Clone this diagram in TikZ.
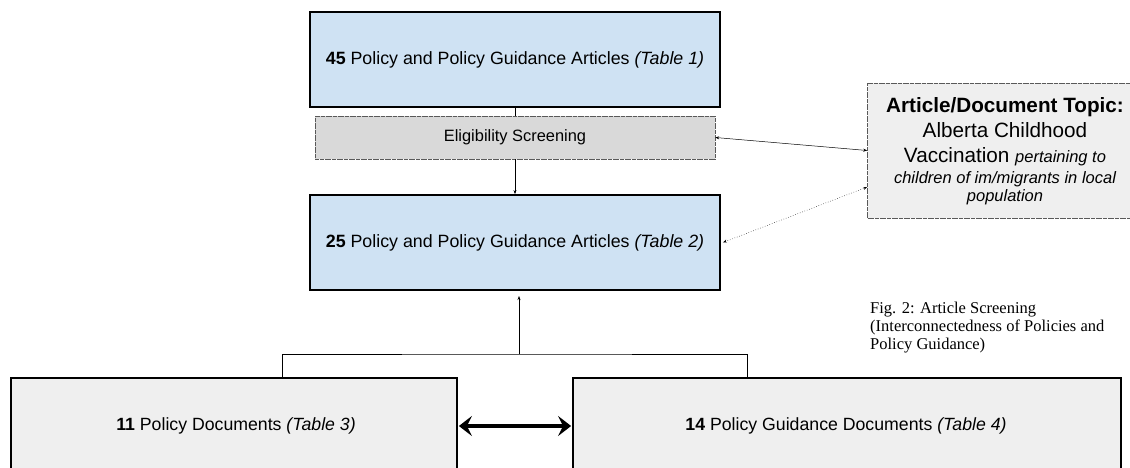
\documentclass[tikz,border=0pt]{standalone}
\usepackage{fontspec}
\setmainfont{Liberation Sans}
\newfontfamily\capfont{Liberation Serif}
\usetikzlibrary{arrows.meta}
\definecolor{boxblue}{HTML}{CFE2F3}
\definecolor{screengray}{HTML}{D9D9D9}
\definecolor{lightgray}{HTML}{EFEFEF}
\definecolor{edgegray}{HTML}{595959}
\begin{document}
\begin{tikzpicture}[x=1pt,y=-1pt,
  bluebox/.style={draw=black,line width=1.8pt,fill=boxblue,minimum width=410pt,minimum height=95pt,inner sep=0pt,font=\fontsize{17.8}{20}\selectfont},
  docbox/.style={draw=black,line width=1.8pt,fill=lightgray,inner sep=0pt},
  doctext/.style={font=\fontsize{17.7}{20}\selectfont},
  screenbox/.style={draw=edgegray,line width=0.5pt,dash pattern=on 2pt off 0.4pt,fill=screengray,minimum width=400pt,minimum height=43pt,inner sep=0pt,font=\fontsize{16.4}{18}\selectfont},
  topicbox/.style={draw=edgegray,line width=0.6pt,dash pattern=on 2pt off 0.4pt,fill=lightgray,minimum width=263pt,minimum height=135pt,inner sep=0pt},
  topicline/.style={anchor=base,inner sep=0pt},
  big/.style={font=\fontsize{20.7}{24}\selectfont},
  note/.style={font=\fontsize{16.5}{19}\selectfont\itshape},
  thin/.style={draw=black,line width=0.5pt},
  small tip/.style={-{Stealth[length=4pt,width=3pt]}},
  both small/.style={{Stealth[length=4pt,width=3pt]}-{Stealth[length=4pt,width=3pt]}}
]
\useasboundingbox (0,0) rectangle (1130,468);
\clip (0,0) rectangle (1130,468);

% article counts
\node[bluebox] (a45) at (515,59.5) {\textbf{45} Policy and Policy Guidance Articles \textit{(Table 1)}};
\node[screenbox] (elig) at (515,137.5) {Eligibility Screening};
\node[bluebox] (a25) at (515,242.5) {\textbf{25} Policy and Policy Guidance Articles \textit{(Table 2)}};

% topic box and its lines
\node[topicbox] (topic) at (999,150.5) {};
\node[topicline,big] (t1) at (1005,113) {\textbf{Article/Document Topic:}};
\node[topicline,big] (t2) at (1005,138) {Alberta Childhood};
\node[topicline,big] (t3) at (1005,163) {Vaccination {\fontsize{16.5}{19}\selectfont\itshape pertaining to}};
\node[topicline,note] (t4) at (1005,183) {children of im/migrants in local};
\node[topicline,note] (t5) at (1005,201) {population};

% document boxes (run past the lower edge)
\node[docbox,minimum width=446pt,minimum height=120pt] (pol) at (234,438) {};
\node[docbox,minimum width=548pt,minimum height=120pt] (guid) at (847,438) {};
\node[doctext] (poltxt) at (236,426) {\textbf{11} Policy Documents \textit{(Table 3)}};
\node[doctext] (guidtxt) at (846,426) {\textbf{14} Policy Guidance Documents \textit{(Table 4)}};

% caption
\node[anchor=north west,align=left,inner sep=0pt,font=\capfont\fontsize{16.5}{18.2}\selectfont] (cap) at (870,301.5)
  {Fig. 2: Article Screening\\(Interconnectedness of Policies and\\Policy Guidance)};

% connectors
\coordinate (j) at (519,354);
\draw[thin] (a45.south) -- (elig.north);
\draw[thin,small tip] (elig.south) -- (a25.north);
\draw[thin,small tip] (j) -- (519,296);
\draw[thin] (282,378) |- (j) -| (747,378);
\draw[thin,both small] (elig.east) -- (topic.west);
\draw[thin,both small,dotted] ([xshift=2pt]a25.east) -- ([yshift=-36.5pt]topic.west);
\draw[line width=3.5pt,{Stealth[length=13pt,width=20pt,inset=5pt]}-{Stealth[length=13pt,width=20pt,inset=5pt]}] ([xshift=1pt]pol.east |- poltxt) -- ([xshift=-1pt]guid.west |- guidtxt);
\end{tikzpicture}
\end{document}
